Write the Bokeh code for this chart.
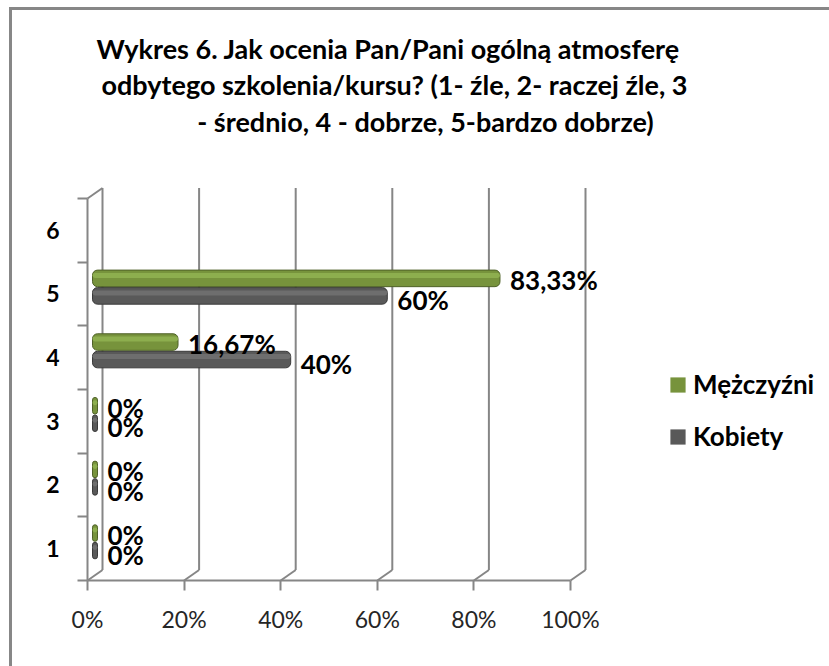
from bokeh.plotting import figure
from bokeh.models import FixedTicker, Legend, LegendItem, ColumnDataSource
from bokeh.core.properties import value
from bokeh.embed import file_html
from bokeh.resources import INLINE

# ---------------- data ----------------
categories = ["1", "2", "3", "4", "5", "6"]
cat_pos = [1, 2, 3, 4, 5, 6]
bar_cats = [1, 2, 3, 4, 5]
mezczyzni = [0, 0, 0, 16.67, 83.33]
kobiety = [0, 0, 0, 40, 60]
mezczyzni_labels = ["0%", "0%", "0%", "16,67%", "83,33%"]
kobiety_labels = ["0%", "0%", "0%", "40%", "60%"]
x_ticks = [0, 20, 40, 60, 80, 100]
x_tick_labels = ["0%", "20%", "40%", "60%", "80%", "100%"]
series_names = ["Mężczyźni", "Kobiety"]
title_lines = [
    "Wykres 6. Jak ocenia Pan/Pani  ogólną atmosferę",
    "odbytego szkolenia/kursu? (1- źle, 2- raczej źle, 3",
    "- średnio, 4 - dobrze, 5-bardzo dobrze)",
]

# ---------------- geometry / style ----------------
FONT = "Lato"
GREEN = "#77933C"
GREEN_DARK = "#4F6228"
GREEN_LIGHT = "#8DAE4E"
GRAY = "#595959"
GRAY_DARK = "#3A3A3A"
GRAY_LIGHT = "#6E6E6E"
GRID = "#868686"

CX, CY = 12, 10      # page position of the canvas
PX_X = 4.83          # pixels per 1 %
PX_Y = 63.67         # pixels per category
FRAME_TOP = CY
FRAME_BOTTOM = 582
AXIS_Y_PAGE = 580
FRAME_LEFT = 85
AXIS_X_PAGE = 87
FRAME_RIGHT = 829

x_start = (FRAME_LEFT - AXIS_X_PAGE) / PX_X
x_end = (FRAME_RIGHT - AXIS_X_PAGE) / PX_X
y_start = 0.5 - (FRAME_BOTTOM - AXIS_Y_PAGE) / PX_Y
y_end = 0.5 + (AXIS_Y_PAGE - FRAME_TOP) / PX_Y


def px_x(page_x):
    return (page_x - AXIS_X_PAGE) / PX_X


def px_y(page_y):
    return 0.5 + (AXIS_Y_PAGE - page_y) / PX_Y


DX = 15 / PX_X       # depth offset
DY = 10.5 / PX_Y

p = figure(
    frame_width=FRAME_RIGHT - FRAME_LEFT,
    frame_height=FRAME_BOTTOM - FRAME_TOP,
    x_range=(x_start, x_end),
    y_range=(y_start, y_end),
    output_backend="svg",
    toolbar_location=None,
    min_border_left=FRAME_LEFT - CX,
    min_border_right=0,
    min_border_bottom=666 - FRAME_BOTTOM,
    min_border_top=0,
    background_fill_color="white",
    border_fill_color="white",
    outline_line_color=None,
    styles={"border-left": "3px solid #878787", "border-top": "3px solid #878787",
            "margin-left": "9px", "margin-top": "7px"},
)
p.grid.visible = False

# ---------------- title (three centred lines) ----------------
title_src = ColumnDataSource(dict(
    x=[px_x(391), px_x(394), px_x(425)],
    y=[px_y(48), px_y(84), px_y(121)],
    t=title_lines,
))
p.text(x="x", y="y", text="t", source=title_src, text_font=value(FONT),
       text_font_size="27px", text_font_style="bold", text_align="center",
       text_baseline="middle", text_color="#000000")

# ---------------- 3D frame decoration ----------------
top_val = 6.5
p.segment(x0=[t + DX for t in x_ticks], y0=[0.5 + DY] * len(x_ticks),
          x1=[t + DX for t in x_ticks], y1=[top_val + DY] * len(x_ticks),
          line_color=GRID, line_width=2)
p.segment(x0=x_ticks, y0=[0.5] * len(x_ticks),
          x1=[t + DX for t in x_ticks], y1=[0.5 + DY] * len(x_ticks),
          line_color=GRID, line_width=2)
p.segment(x0=[0], y0=[top_val], x1=[DX], y1=[top_val + DY], line_color=GRID, line_width=2)
p.segment(x0=[0], y0=[0.5], x1=[0], y1=[top_val], line_color=GRID, line_width=2)
p.segment(x0=[0], y0=[0.5], x1=[100], y1=[0.5], line_color=GRID, line_width=2)

# ---------------- bars ----------------
BAR_H = 0.26
LEFT = 5 / PX_X
END_PAD = 10 / PX_X
LAB_PAD = 10 / PX_X
CORE_PAD = 5 / PX_X
men_y = [c + 0.245 for c in bar_cats]
women_y = [c - 0.03 for c in bar_cats]


def make_src(vals, labels, ys, label_dy):
    rights = [v + END_PAD for v in vals]
    return ColumnDataSource(dict(
        y=ys,
        hy=[y + BAR_H * 0.18 for y in ys],
        right=rights,
        core_left=[LEFT + CORE_PAD] * len(vals),
        core_right=[max(r - CORE_PAD, LEFT + CORE_PAD) for r in rights],
        lab=labels,
        lx=[r + LAB_PAD for r in rights],
        ly=[y - label_dy / PX_Y for y in ys],
    ))


src_w = make_src(kobiety, kobiety_labels, women_y, 4)
src_m = make_src(mezczyzni, mezczyzni_labels, men_y, 2)

# square-cornered cores (also used as legend keys), covered by rounded cylinders
key_w = p.hbar(y="y", left="core_left", right="core_right", height=BAR_H * 0.8,
               source=src_w, fill_color=GRAY, line_color=None)
p.hbar(y="y", left=LEFT, right="right", height=BAR_H, source=src_w,
       fill_color=GRAY, line_color=GRAY_DARK, line_width=1, border_radius=5)
p.hbar(y="hy", left=LEFT, right="right", height=BAR_H * 0.3, source=src_w,
       fill_color=GRAY_LIGHT, line_color=None, border_radius=3)
key_m = p.hbar(y="y", left="core_left", right="core_right", height=BAR_H * 0.8,
               source=src_m, fill_color=GREEN, line_color=None)
p.hbar(y="y", left=LEFT, right="right", height=BAR_H, source=src_m,
       fill_color=GREEN, line_color=GREEN_DARK, line_width=1, border_radius=5)
p.hbar(y="hy", left=LEFT, right="right", height=BAR_H * 0.3, source=src_m,
       fill_color=GREEN_LIGHT, line_color=None, border_radius=3)

for src in (src_w, src_m):
    p.text(x="lx", y="ly", text="lab", source=src, text_font=value(FONT),
           text_font_size="26px", text_font_style="bold", text_baseline="middle",
           text_color="#000000")

# ---------------- axes ----------------
xa = p.xaxis[0]
xa.ticker = FixedTicker(ticks=x_ticks)
xa.major_label_overrides = {t: l for t, l in zip(x_ticks, x_tick_labels)}
xa.axis_line_color = None
xa.major_tick_in = 2
xa.major_tick_out = 8
xa.major_tick_line_color = GRID
xa.major_tick_line_width = 2
xa.minor_tick_line_color = None
xa.major_label_standoff = 14
xa.major_label_text_font = FONT
xa.major_label_text_font_size = "23px"
xa.major_label_text_color = "#262626"

ya = p.yaxis[0]
ya.ticker = FixedTicker(ticks=cat_pos, minor_ticks=[c - 0.5 for c in cat_pos] + [6.5])
ya.major_label_overrides = {c: l for c, l in zip(cat_pos, categories)}
ya.axis_line_color = None
ya.major_tick_line_color = None
ya.major_tick_in = 0
ya.major_tick_out = 0
ya.minor_tick_in = 2
ya.minor_tick_out = 8
ya.minor_tick_line_color = GRID
ya.minor_tick_line_width = 2
ya.major_label_standoff = 18
ya.major_label_text_font = FONT
ya.major_label_text_font_size = "23px"
ya.major_label_text_font_style = "bold"
ya.major_label_text_color = "#000000"

# ---------------- legend ----------------
legend = Legend(
    items=[LegendItem(label=series_names[0], renderers=[key_m]),
           LegendItem(label=series_names[1], renderers=[key_w])],
    location=(583, 130),
    orientation="vertical",
    glyph_width=19, glyph_height=19,
    label_standoff=6, spacing=20, padding=0, margin=0,
    border_line_color=None, background_fill_alpha=0,
    label_text_font=FONT, label_text_font_size="26px",
    label_text_font_style="bold", label_text_color="#000000",
)
p.add_layout(legend)

open("out.html", "w").write(file_html(p, INLINE))
